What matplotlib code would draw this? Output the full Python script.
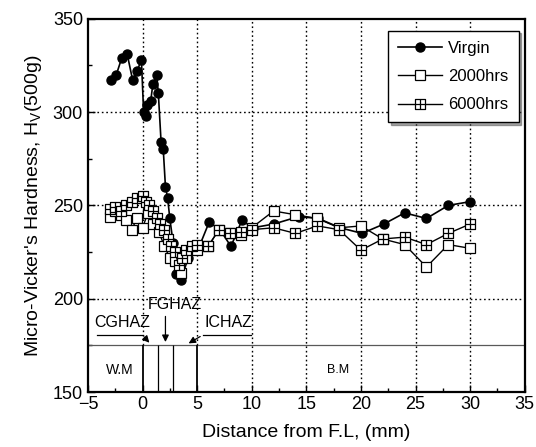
import numpy as np
import matplotlib
matplotlib.use("Agg")
import matplotlib.pyplot as plt
from matplotlib.path import Path

plt.rcParams["font.family"] = ["Liberation Sans", "DejaVu Sans"]

# Virgin
virgin_x = [-2.9, -2.4, -1.9, -1.4, -0.9, -0.5, -0.1, 0.1, 0.35, 0.45, 0.75, 0.95,
            1.3, 1.45, 1.7, 1.9, 2.1, 2.3, 2.5, 2.8, 3.1, 3.5, 4.2, 5.2, 6.1, 7.1,
            8.1, 9.1, 10.1, 12.0, 14.3, 16.1, 18.1, 20.1, 22.1, 24.0, 26.0, 28.0, 30.0]
virgin_y = [317, 320, 329, 331, 317, 322, 328, 300, 298, 304, 306, 315,
            320, 310, 284, 280, 260, 254, 243, 230, 213, 210, 222, 228, 241, 237,
            228, 242, 238, 240, 244, 243, 238, 235, 240, 246, 243, 250, 252]

# 2000hrs
h2000_x = [-3.0, -2.5, -2.0, -1.5, -1.0, -0.5, 0.0, 0.5, 1.0, 1.5, 2.0, 2.5, 3.0,
           3.5, 4.0, 5.0, 6.0, 7.0, 8.0, 9.0, 10.0, 12.0, 14.0, 16.0, 18.0, 20.0,
           22.0, 24.0, 26.0, 28.0, 30.0]
h2000_y = [244, 247, 245, 242, 237, 243, 238, 246, 240, 236, 228, 222, 220,
           214, 222, 226, 228, 237, 235, 234, 238, 247, 245, 243, 238, 239,
           232, 229, 217, 229, 227]

# 6000hrs
h6000_x = [-3.0, -2.5, -2.0, -1.5, -1.0, -0.5, 0.0, 0.3, 0.6, 1.0, 1.3, 1.6, 2.0,
           2.3, 2.6, 3.0, 3.3, 3.6, 4.0, 4.5, 5.0, 6.0, 7.0, 8.0, 9.0, 10.0, 12.0,
           14.0, 16.0, 18.0, 20.0, 22.0, 24.0, 26.0, 28.0, 30.0]
h6000_y = [248, 249, 247, 250, 252, 254, 255, 252, 250, 247, 243, 240, 237,
           232, 228, 225, 218, 222, 226, 228, 229, 228, 237, 235, 236, 237, 238,
           235, 239, 237, 226, 232, 233, 229, 235, 240]

# weld zone boundaries (mm) and labels
zone_edges = [0, 1.4, 2.75, 5]
zone_top = 175

# square with a cross inside
sq_cross = Path(
    [(-1, -1), (1, -1), (1, 1), (-1, 1), (-1, -1), (0, -1), (0, 1), (-1, 0), (1, 0)],
    [Path.MOVETO, Path.LINETO, Path.LINETO, Path.LINETO, Path.CLOSEPOLY,
     Path.MOVETO, Path.LINETO, Path.MOVETO, Path.LINETO],
)

fig = plt.figure(figsize=(5.36, 4.47), dpi=100)
ax = fig.add_axes([0.164, 0.123, 0.815, 0.835])

ax.plot(virgin_x, virgin_y, "-o", color="black", mfc="black", ms=6.5, lw=1.2,
        label="Virgin", zorder=3)
ax.plot(h2000_x, h2000_y, "-s", color="black", mfc="white", ms=7.5, mew=0.9,
        lw=1.0, label="2000hrs", zorder=4)
ax.plot(h6000_x, h6000_y, "-", marker=sq_cross, color="black", mfc="white",
        ms=7.5, mew=0.9, lw=1.0, label="6000hrs", zorder=5)

ax.axhline(zone_top, color="0.35", lw=0.9, zorder=2)
for i, x in enumerate(zone_edges):
    ax.vlines(x, 150, zone_top, color="black",
              lw=1.3 if i in (0, len(zone_edges) - 1) else 0.9, zorder=2)

ax.text(-2.1, 162, "W.M", fontsize=10, ha="center", va="center")
ax.text(17.9, 162, "B.M", fontsize=9, ha="center", va="center")
ax.text(-1.9, 187, "CGHAZ", fontsize=11.5, ha="center", va="center")
ax.text(3.0, 197, "FGHAZ", fontsize=11.5, ha="center", va="center")
ax.text(7.9, 187, "ICHAZ", fontsize=11.5, ha="center", va="center")

ax.plot([-4.2, 0.0], [180.5, 180.5], color="black", lw=0.9)
ax.annotate("", xy=(0.8, 175.3), xytext=(0.0, 180.5),
            arrowprops=dict(arrowstyle="-|>", color="black", lw=0.9, mutation_scale=10))
ax.plot([9.9, 5.5], [180.5, 180.5], color="black", lw=0.9)
ax.annotate("", xy=(4.0, 175.3), xytext=(5.5, 180.5),
            arrowprops=dict(arrowstyle="-|>", color="black", lw=0.9, mutation_scale=10))
ax.annotate("", xy=(2.1, 175.3), xytext=(2.1, 192),
            arrowprops=dict(arrowstyle="-|>", color="black", lw=0.9, mutation_scale=10))

ax.set_xlim(-5, 35)
ax.set_ylim(150, 350)
ax.set_xticks(np.arange(-5, 36, 5))
ax.set_xticks(np.arange(-5, 36, 2.5), minor=True)
ax.set_yticks([150, 200, 250, 300, 350])
ax.set_yticks(np.arange(150, 351, 25), minor=True)
ax.tick_params(which="both", direction="in", top=False, right=False, labelsize=13)
ax.tick_params(which="major", length=5, width=1)
ax.tick_params(which="minor", length=3, width=1)
ax.tick_params(axis="x", pad=3)

for x in range(0, 35, 5):
    lo = zone_top if x in (0, 5) else 150
    ax.plot([x, x], [lo, 350], color="black", ls=(0, (1.2, 2)), lw=1.0, zorder=1)
for y in (200, 250, 300):
    ax.axhline(y, color="black", ls=(0, (1.2, 2)), lw=1.0, zorder=1)

for s in ax.spines.values():
    s.set_linewidth(1.6)

ax.set_xlabel("Distance from F.L, (mm)", fontsize=14, labelpad=8)
ax.set_ylabel("Micro-Vicker's Hardness, H$_\\mathregular{V}$(500g)", fontsize=14, labelpad=6)

leg = ax.legend(loc="upper right", bbox_to_anchor=(0.986, 0.968), borderaxespad=0,
                fontsize=12, frameon=True, fancybox=False, shadow=True,
                edgecolor="black", handlelength=2.6, borderpad=0.6,
                labelspacing=0.8, handletextpad=0.4)
leg.get_frame().set_linewidth(1.0)

fig.savefig("out.png", dpi=100)
